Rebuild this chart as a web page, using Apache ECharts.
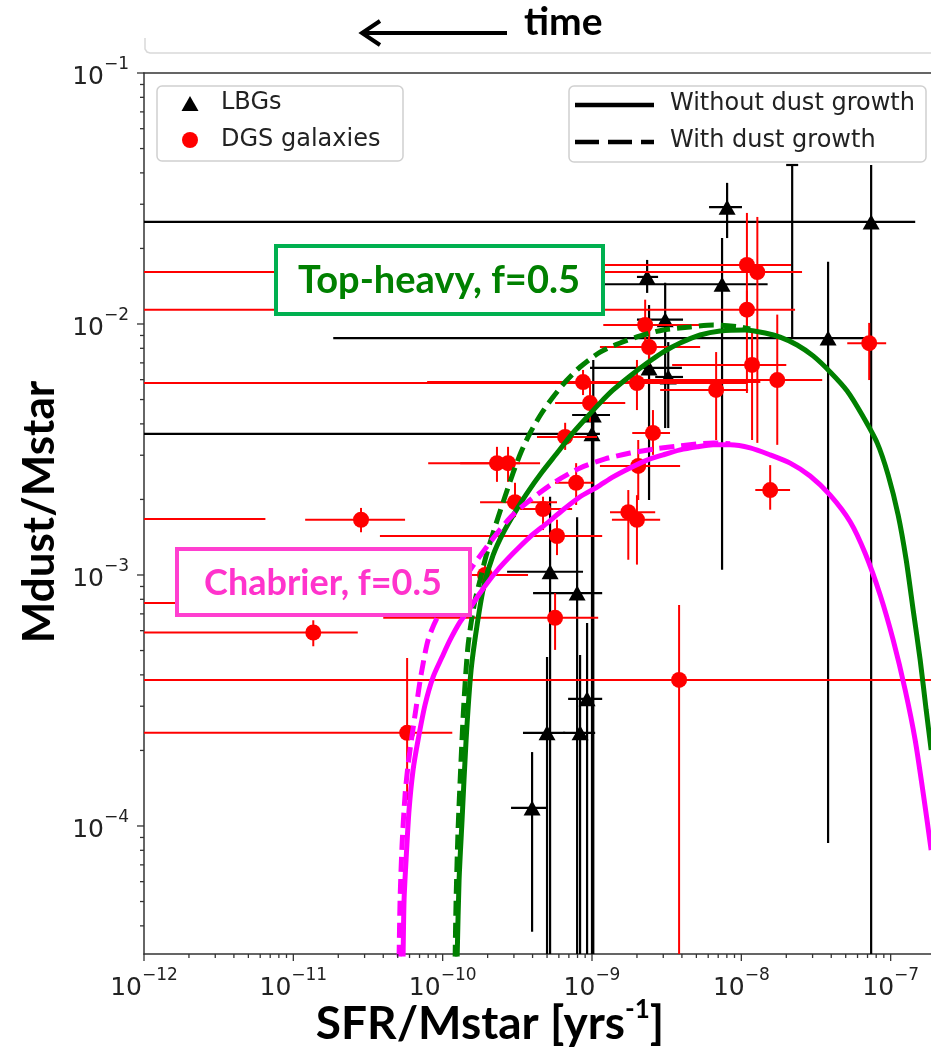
<!DOCTYPE html>
<html><head><meta charset="utf-8">
<script src="https://cdn.jsdelivr.net/npm/echarts@6/dist/echarts.min.js"></script>
<style>html,body{margin:0;padding:0;background:#fff}#c{width:931px;height:1055px}</style>
</head><body><div id="c"></div>
<script>
// ---------- axis ranges / ticks ----------
const X_MIN = 1e-12, X_MAX = 1e-6, Y_MIN = 3.09e-5, Y_MAX = 0.1;
const xMajorTicks = [1e-12, 1e-11, 1e-10, 1e-9, 1e-8, 1e-7];
const yMajorTicks = [1e-4, 1e-3, 1e-2, 1e-1];
const yMinorDecades = [1e-5, 1e-4, 1e-3, 1e-2];
const minorMantissas = [2, 3, 4, 5, 6, 7, 8, 9];

// ---------- LBGs (black triangles) ----------
const lbgX   = [7.4e-8, 8.03e-9, 7.43e-9, 2.34e-9, 3.09e-9, 2.41e-9, 3.24e-9, 3.81e-8, 1.02e-9, 1.0e-9, 5.24e-10, 7.95e-10, 9.27e-10, 5.0e-10, 8.32e-10, 3.97e-10];
const lbgY   = [2.55e-2, 2.92e-2, 1.44e-2, 1.54e-2, 1.04e-2, 6.68e-3, 6.15e-3, 8.79e-3, 4.34e-3, 3.65e-3, 1.03e-3, 8.47e-4, 3.21e-4, 2.35e-4, 2.35e-4, 1.18e-4];
const lbgXlo = [1e-13, 6.08e-9, 8.3e-10, 2.0e-9, 2.0e-9, 9.7e-10, 2.65e-9, 1.85e-11, 7.36e-10, 1e-13, 2.7e-10, 4.03e-10, 6.92e-10, 3.45e-10, 6.4e-10, 2.87e-10];
const lbgXhi = [1.46e-7, 1.01e-8, 1.5e-8, 2.77e-9, 4.07e-9, 4.0e-9, 4.07e-9, 7.07e-8, 1.32e-9, 1.13e-9, 8.71e-10, 1.17e-9, 1.17e-9, 6.61e-10, 1.05e-9, 4.93e-10];
const lbgYlo = [1e-6, 2.2e-2, 1.05e-3, 1.33e-2, 3.85e-3, 1.99e-3, 3.85e-3, 8.55e-5, 1e-6, 1e-6, 1e-6, 1e-6, 1e-6, 1e-6, 1e-6, 3.79e-5];
const lbgYhi = [4.3e-2, 3.65e-2, 2.2e-2, 1.8e-2, 1.46e-2, 1.19e-2, 8.47e-3, 1.77e-2, 7.19e-3, 4.97e-3, 2.05e-3, 1.7e-3, 6.44e-4, 4.71e-4, 4.8e-4, 1.97e-4];
// black error segment without visible marker (x1,y1)-(x2,y2)
const lbgSegX1 = [2.19e-8], lbgSegY1 = [8.87e-3], lbgSegX2 = [2.19e-8], lbgSegY2 = [4.3e-2];

// ---------- DGS galaxies (red circles) ----------
const dgsX   = [2.84e-11, 1.36e-11, 5.78e-11, 1.92e-10, 5.83e-10, 5.66e-10, 3.83e-9, 2.31e-10, 2.74e-10, 3.05e-10, 4.7e-10, 6.61e-10, 7.83e-10, 8.71e-10, 9.7e-10, 2.27e-9, 2.41e-9, 2.0e-9, 2.56e-9, 2.04e-9, 1.75e-9, 2.0e-9, 6.78e-9, 1.09e-8, 1.28e-8, 1.09e-8, 1.18e-8, 1.74e-8, 1.56e-8, 7.18e-8];
const dgsY   = [1.66e-3, 5.9e-4, 2.35e-4, 1.0e-3, 1.43e-3, 6.75e-4, 3.82e-4, 2.79e-3, 2.79e-3, 1.95e-3, 1.83e-3, 3.55e-3, 2.33e-3, 5.87e-3, 4.84e-3, 9.91e-3, 8.09e-3, 5.82e-3, 3.68e-3, 2.72e-3, 1.78e-3, 1.66e-3, 5.46e-3, 1.72e-2, 1.61e-2, 1.14e-2, 6.87e-3, 5.98e-3, 2.18e-3, 8.39e-3];
const dgsXlo = [1.2e-11, 1e-13, 1e-13, 9.6e-11, 3.8e-11, 4.0e-11, 1e-13, 8.0e-11, 1.31e-10, 1.78e-10, 3.3e-10, 4.28e-10, 5.66e-10, 7.87e-11, 5.66e-10, 1.19e-9, 1.13e-9, 1e-13, 1.86e-9, 1.13e-9, 1.32e-9, 1.36e-9, 2.86e-9, 1.22e-9, 1e-13, 1e-13, 3.44e-9, 2.17e-9, 1.24e-8, 5.12e-8];
const dgsXhi = [5.6e-11, 2.7e-11, 1.16e-10, 3.73e-10, 1.17e-9, 1.1e-9, 1e-5, 3.3e-10, 4.49e-10, 5.83e-10, 7.36e-10, 1.08e-9, 1.02e-9, 1.34e-8, 1.67e-9, 5.3e-9, 5.3e-9, 1.09e-8, 3.33e-9, 3.89e-9, 2.65e-9, 2.86e-9, 1.11e-8, 2.15e-8, 2.55e-8, 2.29e-8, 2.0e-8, 3.48e-8, 2.12e-8, 9.33e-8];
const dgsYlo = [1.48e-3, 5.2e-4, 1.27e-4, 8.7e-4, 1.2e-3, 5.03e-4, 1e-6, 2.35e-3, 2.35e-3, 1.70e-3, 1.51e-3, 3.15e-3, 1.9e-3, 5.21e-3, 4.07e-3, 8.24e-3, 6.87e-3, 4.54e-3, 3.01e-3, 1.99e-3, 1.15e-3, 1.10e-3, 3.45e-3, 5.31e-3, 3.36e-3, 9.46e-3, 3.45e-3, 3.3e-3, 1.82e-3, 5.98e-3];
const dgsYhi = [1.85e-3, 6.6e-4, 4.67e-4, 1.15e-3, 1.66e-3, 8.47e-4, 7.59e-4, 3.24e-3, 3.24e-3, 2.33e-3, 2.05e-3, 4.04e-3, 2.79e-3, 6.56e-3, 5.82e-3, 1.25e-2, 9.46e-3, 7.19e-3, 4.54e-3, 3.45e-3, 2.18e-3, 2.08e-3, 7.73e-3, 2.77e-2, 2.67e-2, 1.36e-2, 9.46e-3, 1.09e-2, 2.74e-3, 1.01e-2];
// red error segments without visible marker
const dgsSegX1 = [1e-13, 1e-13], dgsSegY1 = [1.67e-3, 7.73e-4], dgsSegX2 = [6.5e-12, 2.0e-11], dgsSegY2 = [1.67e-3, 7.73e-4];

// ---------- model curves ----------
const thSolidX = [1.249e-10,1.288e-10,1.349e-10,1.435e-10,1.550e-10,1.700e-10,1.894e-10,2.176e-10,2.539e-10,3.054e-10,3.676e-10,4.632e-10,5.837e-10,7.357e-10,9.273e-10,1.133e-9,1.385e-9,1.799e-9,2.339e-9,2.994e-9,3.892e-9,5.297e-9,7.211e-9,1.060e-8,1.443e-8,1.819e-8,2.365e-8,3.026e-8,3.934e-8,5.113e-8,6.444e-8,8.121e-8,9.623e-8,1.123e-7,1.270e-7,1.415e-7,1.576e-7,1.729e-7,1.867e-7];
const thSolidY = [2.93e-5,6.09e-5,1.06e-4,2.20e-4,4.18e-4,6.32e-4,9.13e-4,1.20e-3,1.47e-3,1.78e-3,2.12e-3,2.57e-3,3.06e-3,3.65e-3,4.26e-3,4.85e-3,5.46e-3,6.21e-3,6.99e-3,7.73e-3,8.40e-3,9.04e-3,9.38e-3,9.47e-3,9.21e-3,8.87e-3,8.25e-3,7.46e-3,6.44e-3,5.41e-3,4.34e-3,3.36e-3,2.50e-3,1.73e-3,1.15e-3,7.25e-4,4.59e-4,2.90e-4,2.01e-4];
const thDashX = [1.211e-10,1.230e-10,1.268e-10,1.328e-10,1.391e-10,1.480e-10,1.623e-10,1.780e-10,1.953e-10,2.176e-10,2.539e-10,2.961e-10,3.351e-10,3.849e-10,4.561e-10,5.488e-10,6.707e-10,8.322e-10,1.133e-9,1.543e-9,2.100e-9,2.994e-9,4.541e-9,6.473e-9,9.818e-9,1.146e-8];
const thDashY = [2.93e-5,5.07e-5,9.64e-5,1.83e-4,3.18e-4,5.26e-4,7.59e-4,9.55e-4,1.19e-3,1.47e-3,1.95e-3,2.55e-3,3.09e-3,3.68e-3,4.38e-3,5.12e-3,5.93e-3,6.74e-3,7.73e-3,8.40e-3,8.96e-3,9.47e-3,9.73e-3,9.91e-3,9.73e-3,9.55e-3];
const chSolidX = [5.430e-11,5.515e-11,5.687e-11,5.956e-11,6.335e-11,6.842e-11,7.622e-11,8.623e-11,9.908e-11,1.121e-10,1.308e-10,1.526e-10,1.780e-10,2.279e-10,2.961e-10,3.849e-10,5.003e-10,6.404e-10,8.322e-10,1.082e-9,1.385e-9,1.799e-9,2.339e-9,2.994e-9,3.892e-9,5.058e-9,6.473e-9,8.414e-9,1.146e-8,1.559e-8,2.123e-8,2.889e-8,3.934e-8,5.355e-8,6.749e-8,8.505e-8,1.039e-7,1.251e-7,1.459e-7,1.676e-7,1.867e-7];
const chSolidY = [2.93e-5,5.07e-5,7.32e-5,1.16e-4,1.67e-4,2.20e-4,3.04e-4,3.92e-4,4.71e-4,5.51e-4,6.50e-4,7.39e-4,8.48e-4,1.03e-3,1.22e-3,1.42e-3,1.61e-3,1.82e-3,2.05e-3,2.24e-3,2.46e-3,2.67e-3,2.87e-3,3.01e-3,3.15e-3,3.24e-3,3.30e-3,3.30e-3,3.21e-3,3.01e-3,2.79e-3,2.48e-3,2.08e-3,1.63e-3,1.22e-3,8.32e-4,5.51e-4,3.48e-4,2.20e-4,1.27e-4,8.02e-5];
const chDashX = [5.105e-11,5.185e-11,5.347e-11,5.600e-11,5.865e-11,6.240e-11,6.634e-11,7.167e-11,7.985e-11,9.173e-11,1.070e-10,1.249e-10,1.598e-10,2.078e-10,2.828e-10,3.849e-10,5.659e-10,8.322e-10,1.224e-9,1.799e-9,2.647e-9,3.892e-9,6.473e-9,8.414e-9];
const chDashY = [2.93e-5,5.07e-5,8.40e-5,1.33e-4,1.75e-4,2.30e-4,2.95e-4,4.00e-4,5.51e-4,6.74e-4,7.73e-4,8.71e-4,1.09e-3,1.35e-3,1.69e-3,1.99e-3,2.35e-3,2.67e-3,2.90e-3,3.06e-3,3.18e-3,3.27e-3,3.36e-3,3.33e-3];

// ---------- build ----------
const zip = (...a) => a[0].map((_, i) => a.map(arr => arr[i]));
const lbgRows = zip(lbgX, lbgY, lbgXlo, lbgXhi, lbgYlo, lbgYhi);
const dgsRows = zip(dgsX, dgsY, dgsXlo, dgsXhi, dgsYlo, dgsYhi);
const lbgSegRows = zip(lbgSegX1, lbgSegY1, lbgSegX2, lbgSegY2);
const dgsSegRows = zip(dgsSegX1, dgsSegY1, dgsSegX2, dgsSegY2);

const xMinor = [], yMinor = [];
xMajorTicks.forEach(d => minorMantissas.forEach(m => xMinor.push(m * d)));
yMinorDecades.forEach(d => minorMantissas.forEach(m => { const v = m * d; if (v >= Y_MIN && v < Y_MAX) yMinor.push(v); }));
const xTickRows = xMajorTicks.map(v => [v, Y_MIN, 7]).concat(xMinor.map(v => [v, Y_MIN, 4]));
const yTickRows = yMajorTicks.map(v => [X_MIN, v, 7]).concat(yMinor.map(v => [X_MIN, v, 4]));

function clampFns(cs) {
  const x0 = cs.x, x1 = cs.x + cs.width, y0 = cs.y, y1 = cs.y + cs.height;
  return [v => Math.min(Math.max(v, x0), x1), v => Math.min(Math.max(v, y0), y1)];
}
function errRender(color, lw) {
  return function (params, api) {
    const [cx, cy] = clampFns(params.coordSys);
    const x = api.value(0), y = api.value(1);
    const l = api.coord([api.value(2), y]), r = api.coord([api.value(3), y]);
    const b = api.coord([x, api.value(4)]), t = api.coord([x, api.value(5)]);
    const st = { stroke: color, lineWidth: lw };
    return { type: 'group', children: [
      { type: 'line', shape: { x1: cx(l[0]), y1: l[1], x2: cx(r[0]), y2: r[1] }, style: st },
      { type: 'line', shape: { x1: b[0], y1: cy(b[1]), x2: t[0], y2: cy(t[1]) }, style: st }
    ] };
  };
}
function segRender(color, lw, cap) {
  return function (params, api) {
    const [cx, cy] = clampFns(params.coordSys);
    const p = api.coord([api.value(0), api.value(1)]), q = api.coord([api.value(2), api.value(3)]);
    const st = { stroke: color, lineWidth: lw };
    const ch = [{ type: 'line', shape: { x1: cx(p[0]), y1: cy(p[1]), x2: cx(q[0]), y2: cy(q[1]) }, style: st }];
    if (cap) ch.push({ type: 'line', shape: { x1: q[0] - 6, y1: q[1], x2: q[0] + 6, y2: q[1] }, style: st });
    return { type: 'group', children: ch };
  };
}
function powLabel(v) {
  const lg = Math.log10(v), e = Math.round(lg);
  if (Math.abs(lg - e) > 1e-6) return '';
  return '{b|10}{s|\u2212' + Math.abs(e) + '}';
}
const tickRich = {
  b: { fontSize: 25, fontFamily: 'DejaVu Sans', color: '#222', lineHeight: 34, verticalAlign: 'bottom' },
  s: { fontSize: 17, fontFamily: 'DejaVu Sans', color: '#222', lineHeight: 17, verticalAlign: 'top' }
};
const AX = '#333';

const chart = echarts.init(document.getElementById('c'), null, { renderer: 'canvas' });
const lineSer = (name, xs, ys, color, dashed) => ({
  type: 'line', name, data: zip(xs, ys), showSymbol: false, symbol: 'none', smooth: 0.25,
  lineStyle: { color, width: 5, type: dashed ? [15, 7] : 'solid' }, z: 4, silent: true, clip: true
});

chart.setOption({
  animation: false,
  backgroundColor: '#fff',
  grid: { left: 144, right: -109, top: 73, bottom: 101, containLabel: false, outerBoundsMode: 'none' },
  xAxis: [
    { type: 'log', logBase: 10, min: X_MIN, max: X_MAX, splitNumber: 6,
      axisLine: { show: true, onZero: false, lineStyle: { color: AX, width: 1.5 } },
      axisTick: { show: false }, splitLine: { show: false }, minorTick: { show: false },
      axisLabel: { formatter: powLabel, margin: 13, rich: tickRich, showMinLabel: true, showMaxLabel: true } },
    { type: 'log', logBase: 10, min: X_MIN, max: X_MAX, position: 'top', gridIndex: 0,
      axisLine: { show: true, onZero: false, lineStyle: { color: AX, width: 1.5 } },
      axisTick: { show: false }, axisLabel: { show: false }, splitLine: { show: false } }
  ],
  yAxis: { type: 'log', logBase: 10, min: Y_MIN, max: Y_MAX, splitNumber: 4,
    axisLine: { show: true, onZero: false, lineStyle: { color: AX, width: 1.5 } },
    axisTick: { show: false }, splitLine: { show: false }, minorTick: { show: false },
    axisLabel: { formatter: powLabel, margin: 15, rich: tickRich } },
  series: [
    { type: 'custom', name: 'xticks', data: xTickRows, clip: false, silent: true, encode: { x: 0, y: 1 }, z: 6,
      renderItem: (p, api) => { const c = api.coord([api.value(0), api.value(1)]); if (c[0] > 940) return null;
        return { type: 'line', shape: { x1: c[0], y1: c[1], x2: c[0], y2: c[1] + api.value(2) }, style: { stroke: AX, lineWidth: 1.3 } }; } },
    { type: 'custom', name: 'yticks', data: yTickRows, clip: false, silent: true, encode: { x: 0, y: 1 }, z: 6,
      renderItem: (p, api) => { const c = api.coord([api.value(0), api.value(1)]);
        return { type: 'line', shape: { x1: c[0] - api.value(2), y1: c[1], x2: c[0], y2: c[1] }, style: { stroke: AX, lineWidth: 1.3 } }; } },
    { type: 'custom', name: 'LBG errors', data: lbgRows, encode: { x: 0, y: 1 }, silent: true, z: 2, renderItem: errRender('#000', 2.2) },
    { type: 'custom', name: 'LBG extra', data: lbgSegRows, encode: { x: 0, y: 1 }, silent: true, z: 2, renderItem: segRender('#000', 2.2, true) },
    { type: 'scatter', name: 'LBGs', data: zip(lbgX, lbgY), symbol: 'triangle', symbolSize: [17, 15], itemStyle: { color: '#000', opacity: 1 }, z: 2, silent: true },
    { type: 'custom', name: 'DGS errors', data: dgsRows, encode: { x: 0, y: 1 }, silent: true, z: 3, renderItem: errRender('#ff0000', 2) },
    { type: 'custom', name: 'DGS extra', data: dgsSegRows, encode: { x: 0, y: 1 }, silent: true, z: 3, renderItem: segRender('#ff0000', 2, false) },
    { type: 'scatter', name: 'DGS galaxies', data: zip(dgsX, dgsY), symbol: 'circle', symbolSize: 16, itemStyle: { color: '#ff0000', opacity: 1 }, z: 3, silent: true },
    lineSer('Top-heavy without dust growth', thSolidX, thSolidY, '#008000', false),
    lineSer('Top-heavy with dust growth', thDashX, thDashY, '#008000', true),
    lineSer('Chabrier without dust growth', chSolidX, chSolidY, '#ff00ff', false),
    lineSer('Chabrier with dust growth', chDashX, chDashY, '#ff00ff', true)
  ],
  graphic: { elements: [
    { type: 'polyline', z: 100, shape: { points: [[145, 38], [145, 49], [147, 52], [150, 53], [931, 53]] }, style: { stroke: '#d9d9d9', lineWidth: 1.5, fill: null } },
    { type: 'line', z: 100, shape: { x1: 363, y1: 33, x2: 507, y2: 33 }, style: { stroke: '#000', lineWidth: 4 } },
    { type: 'polyline', z: 100, shape: { points: [[380, 21], [362, 33], [380, 45]] }, style: { stroke: '#000', lineWidth: 4, fill: null } },
    { type: 'text', z: 100, x: 524, y: 22, style: { text: 'time', fontFamily: 'Lato', fontWeight: 'bold', fontSize: 39, fill: '#000', textAlign: 'left', textVerticalAlign: 'middle', align: 'left', verticalAlign: 'middle' } },
    // legend 1
    { type: 'rect', z: 100, shape: { x: 157, y: 86, width: 246, height: 75, r: 5 }, style: { fill: 'rgba(255,255,255,0.85)', stroke: '#d0d0d0', lineWidth: 1.5 } },
    { type: 'polygon', z: 101, shape: { points: [[181.5, 111], [198.5, 111], [190, 96]] }, style: { fill: '#000' } },
    { type: 'circle', z: 101, shape: { cx: 190, cy: 140, r: 8 }, style: { fill: '#ff0000' } },
    { type: 'text', z: 101, x: 221, y: 103, style: { text: 'LBGs', fontFamily: 'DejaVu Sans', fontSize: 24, fill: '#222', textAlign: 'left', textVerticalAlign: 'middle', align: 'left', verticalAlign: 'middle' } },
    { type: 'text', z: 101, x: 221, y: 140, style: { text: 'DGS galaxies', fontFamily: 'DejaVu Sans', fontSize: 24, fill: '#222', textAlign: 'left', textVerticalAlign: 'middle', align: 'left', verticalAlign: 'middle' } },
    // legend 2
    { type: 'rect', z: 100, shape: { x: 569, y: 86, width: 357, height: 76, r: 5 }, style: { fill: 'rgba(255,255,255,0.85)', stroke: '#d0d0d0', lineWidth: 1.5 } },
    { type: 'line', z: 101, shape: { x1: 575, y1: 105, x2: 654, y2: 105 }, style: { stroke: '#000', lineWidth: 4.5 } },
    { type: 'line', z: 101, shape: { x1: 575, y1: 142, x2: 654, y2: 142 }, style: { stroke: '#000', lineWidth: 4.5, lineDash: [24, 9] } },
    { type: 'text', z: 101, x: 670, y: 104, style: { text: 'Without dust growth', fontFamily: 'DejaVu Sans', fontSize: 24, fill: '#222', textAlign: 'left', textVerticalAlign: 'middle', align: 'left', verticalAlign: 'middle' } },
    { type: 'text', z: 101, x: 670, y: 141, style: { text: 'With dust growth', fontFamily: 'DejaVu Sans', fontSize: 24, fill: '#222', textAlign: 'left', textVerticalAlign: 'middle', align: 'left', verticalAlign: 'middle' } },
    // annotation boxes
    { type: 'rect', z: 110, shape: { x: 276, y: 246, width: 327, height: 68 }, style: { fill: '#fff', stroke: '#00b050', lineWidth: 4 } },
    { type: 'text', z: 111, x: 439, y: 281, style: { text: 'Top-heavy, f=0.5', fontFamily: 'Lato', fontWeight: 'bold', fontSize: 38, fill: '#008000', textAlign: 'center', textVerticalAlign: 'middle', align: 'center', verticalAlign: 'middle' } },
    { type: 'rect', z: 110, shape: { x: 177, y: 549, width: 293, height: 66 }, style: { fill: '#fff', stroke: '#ff3fd0', lineWidth: 4 } },
    { type: 'text', z: 111, x: 323, y: 583, style: { text: 'Chabrier, f=0.5', fontFamily: 'Lato', fontWeight: 'bold', fontSize: 36, fill: '#ff33cc', textAlign: 'center', textVerticalAlign: 'middle', align: 'center', verticalAlign: 'middle' } },
    // axis titles
    { type: 'text', z: 100, x: 490, y: 1022, style: { text: '{a|SFR/Mstar [yrs}{s|-1}{a|]}', rich: {
        a: { fontFamily: 'Lato', fontWeight: 'bold', fontSize: 46, fill: '#000', lineHeight: 50, verticalAlign: 'bottom' },
        s: { fontFamily: 'Lato', fontWeight: 'bold', fontSize: 26, fill: '#000', lineHeight: 26, verticalAlign: 'top' } },
        textAlign: 'center', textVerticalAlign: 'middle', align: 'center', verticalAlign: 'middle' } },
    { type: 'text', z: 100, x: 40, y: 512, rotation: Math.PI / 2, style: { text: 'Mdust/Mstar', fontFamily: 'Lato', fontWeight: 'bold', fontSize: 44, fill: '#000', textAlign: 'center', textVerticalAlign: 'middle', align: 'center', verticalAlign: 'middle' } }
  ] }
});
</script></body></html>
